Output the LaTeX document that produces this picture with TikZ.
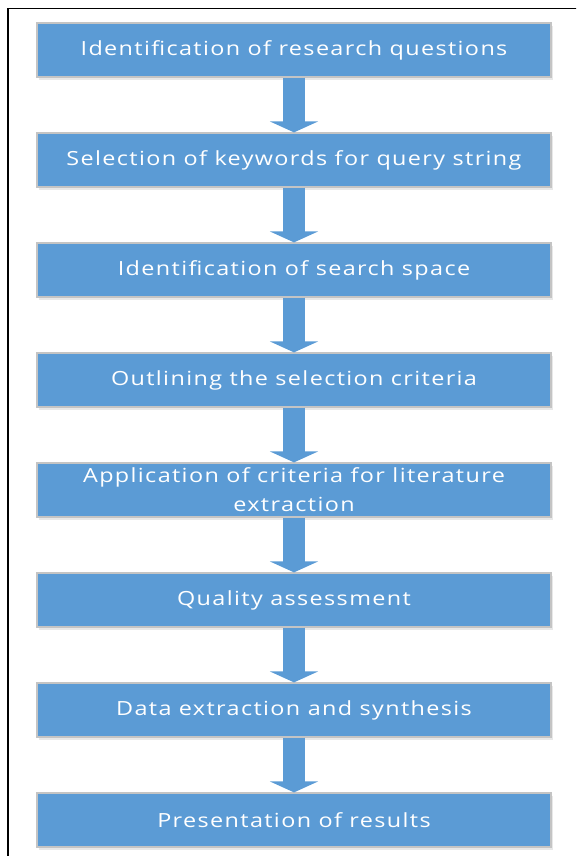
\documentclass[tikz,border=0pt]{standalone}
\usepackage{fontspec}
\setmainfont{Open Sans}[FakeStretch=1.2,LetterSpace=7]
\usetikzlibrary{arrows.meta,positioning,shadows}

\definecolor{boxblue}{HTML}{5B9BD5}
\definecolor{boxline}{HTML}{C4C4C4}

\begin{document}
\begin{tikzpicture}[x=1pt,y=-1pt,node distance=110pt,
  phase node/.style={rectangle,fill=boxblue,draw=boxline,line width=1.2pt,
    minimum width=514pt,minimum height=54pt,inner sep=0pt,align=center,
    text=white,font=\fontsize{19.5}{29}\selectfont,
    drop shadow={shadow xshift=2pt,shadow yshift=-3pt,opacity=0.18}},
  block arrow/.style={color=boxblue,line width=22pt,
    -{Triangle[width=48pt,length=11pt]}}]

 \useasboundingbox (0,0) rectangle (576,856);
 \clip (0,0) rectangle (576,856);
 \draw[line width=1.6pt] (8,8.5) rectangle (620,900);

 \node[phase node] (1) at (294,50) {Identification of research questions};
 \node[phase node] (2) [below of=1] {Selection of keywords for query string};
 \node[phase node] (3) [below of=2] {Identification of search space};
 \node[phase node] (4) [below of=3] {Outlining the selection criteria};
 \node[phase node] (5) [below of=4] {Application of criteria for literature\\extraction};
 \node[phase node] (6) [below of=5] {Quality assessment};
 \node[phase node] (7) [below of=6] {Data extraction and synthesis};
 \node[phase node] (8) [below of=7] {Presentation of results};

 \path[block arrow]
    (1) edge (2)
    (2) edge (3)
    (3) edge (4)
    (4) edge (5)
    (5) edge (6)
    (6) edge (7)
    (7) edge (8);

\end{tikzpicture}
\end{document}
